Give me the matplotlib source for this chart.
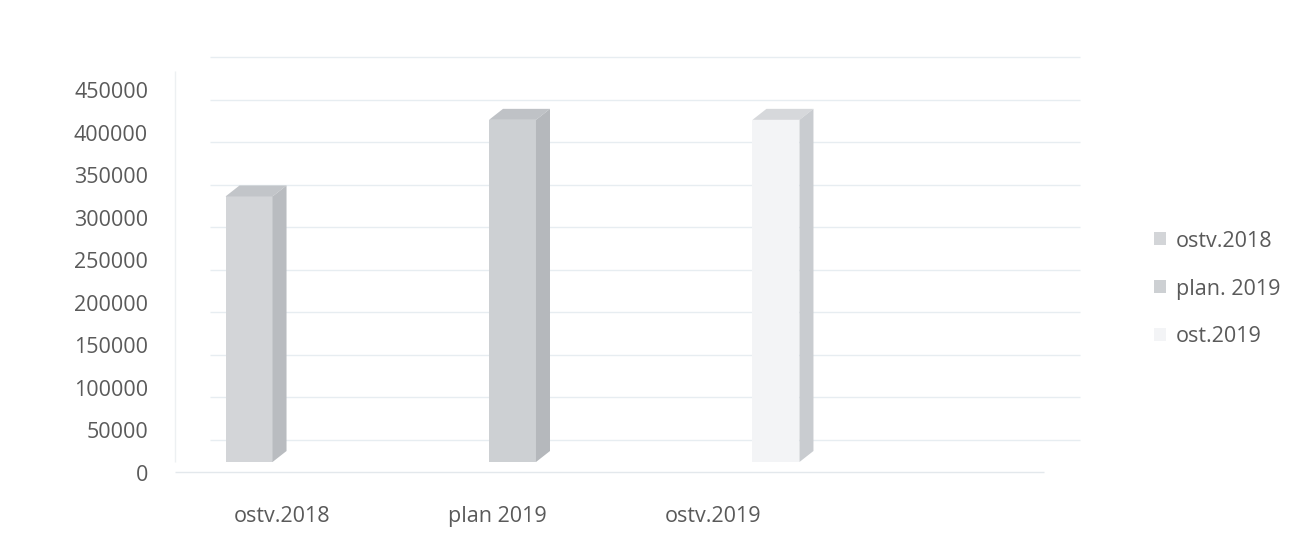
import numpy as np
import matplotlib
matplotlib.use("Agg")
import matplotlib.pyplot as plt
from matplotlib.patches import Polygon
from matplotlib.transforms import ScaledTranslation

categories = ["ostv.2018", "plan 2019", "ostv.2019"]
series_names = ["ostv.2018", "plan. 2019", "ost.2019"]
values = [312000, 402000, 402000]
yticks = [0, 50000, 100000, 150000, 200000, 250000, 300000, 350000, 400000, 450000]

front_cols = ["#d3d5d8", "#cdd0d3", "#f3f4f6"]
side_cols = ["#b9bcc0", "#b5b8bc", "#c9ccd0"]
top_cols = ["#c2c5c9", "#bfc2c6", "#d6d8db"]
txt_col = "#5a5a5a"

plt.rcParams['font.family'] = ['Open Sans', 'DejaVu Sans']

W, H, DPI = 1303, 554, 100
fig = plt.figure(figsize=(W / DPI, H / DPI), dpi=DPI)
ax = fig.add_axes([175 / W, 92 / H, 910 / W, 383 / H])

# px per category unit -> 263.5
ax.set_xlim(-0.281, 3.173)
ax.set_ylim(0, 450000)
for s in ax.spines.values():
    s.set_visible(False)

px_x = 910 / (3.173 + 0.281)
px_y = 383 / 450000
w = 47 / px_x
dx = 14 / px_x
dy = 11 / px_y

xs = np.arange(len(values))
bars = ax.bar(xs, values, width=w, color=front_cols, zorder=3, label=None)
for i, v in enumerate(values):
    c = xs[i]
    top = Polygon([(c - w / 2, v), (c + w / 2, v), (c + w / 2 + dx, v + dy), (c - w / 2 + dx, v + dy)],
                  closed=True, facecolor=top_cols[i], edgecolor="none", zorder=3, clip_on=False)
    side = Polygon([(c + w / 2, 0), (c + w / 2 + dx, dy), (c + w / 2 + dx, v + dy), (c + w / 2, v)],
                   closed=True, facecolor=side_cols[i], edgecolor="none", zorder=3, clip_on=False)
    ax.add_patch(top)
    ax.add_patch(side)

# back wall gridlines (sit a bit higher in the perspective view)
up = ScaledTranslation(0, 22 / DPI, fig.dpi_scale_trans)
ax.hlines(yticks, 0.038, 0.995, transform=ax.get_yaxis_transform() + up,
          colors="#e7edf1", linewidth=1.0, zorder=1, clip_on=False)
# floor front edge and left axis
down = ScaledTranslation(0, -10 / DPI, fig.dpi_scale_trans)
ax.hlines([0], 0.0, 0.955, transform=ax.get_yaxis_transform() + down,
          colors="#e3e8ec", linewidth=1.0, zorder=1, clip_on=False)
ax.vlines([0.0], 0, 1.02, transform=ax.transAxes, colors="#edf0f2", linewidth=1.0, clip_on=False)

ax.set_yticks(yticks)
ax.set_yticklabels([str(t) for t in yticks])
ax.tick_params(axis="y", length=0, pad=27 / 1.389, labelsize=15.5, labelcolor=txt_col)
for lab in ax.get_yticklabels():
    lab.set_transform(lab.get_transform() + ScaledTranslation(0, -11 / DPI, fig.dpi_scale_trans))

# category labels sit on the front floor edge (perspective compressed)
lab_pos = [0.125 + i * 0.818 for i in range(len(categories))]
ax.set_xticks(lab_pos)
ax.set_xticklabels(categories)
ax.tick_params(axis="x", length=0, pad=44 / 1.389, labelsize=15.5, labelcolor=txt_col)

handles = [plt.Rectangle((0, 0), 1, 1, facecolor=front_cols[i], edgecolor="none") for i in range(3)]
fig.legend(handles, series_names, loc="center left", bbox_to_anchor=(1135 / W, 1 - 289 / H),
           frameon=False, fontsize=15.5, labelcolor=txt_col, handlelength=0.55, handleheight=0.55,
           handletextpad=0.45, labelspacing=1.25)

fig.savefig("out.png", dpi=DPI, facecolor="white")
